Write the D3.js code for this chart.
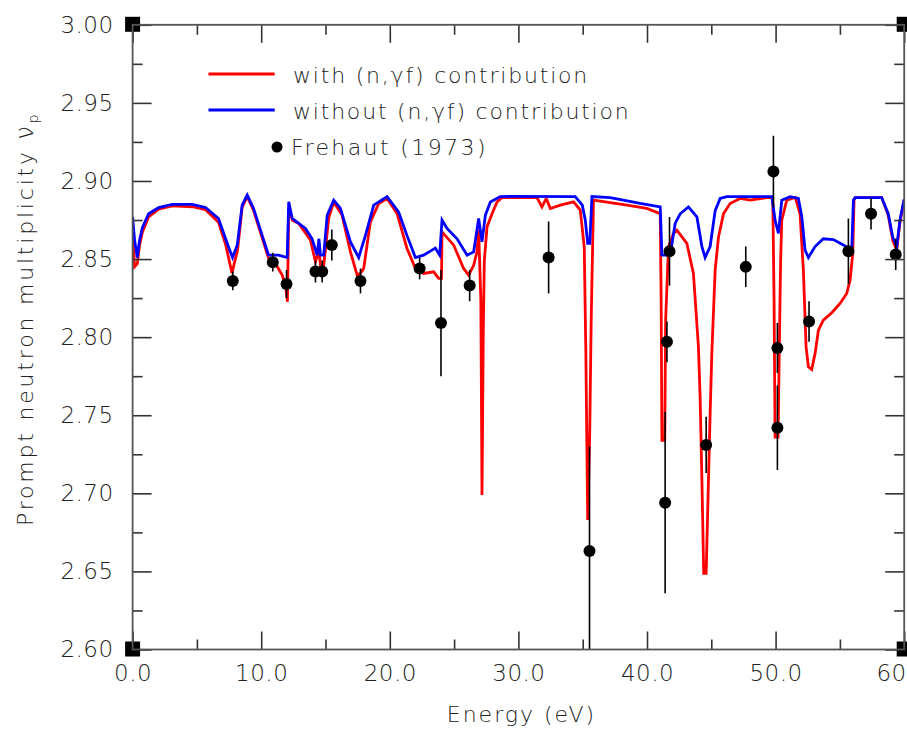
<!DOCTYPE html>
<html>
<head>
<meta charset="utf-8">
<script src="https://cdn.jsdelivr.net/npm/d3@7"></script>
<style>
  html, body { margin: 0; padding: 0; background: #fff; }
  svg { display: block; }
  text { font-family: "DejaVu Sans", sans-serif; font-weight: 200; fill: #222; }
</style>
</head>
<body>
<svg id="chart" width="907" height="739"></svg>
<script>
// Prompt neutron multiplicity vs incident energy, computed with and without
// the (n,γf) contribution, compared with Frehaut (1973) measurements.

// [energy (eV), nu_p] along the calculated curve including (n,γf)
const withNgf = [
  [0,2.865],[0.155,2.845],[0.365,2.847],[0.54,2.859],[0.754,2.867],[1.243,2.877],[2.02,2.882],
  [3.085,2.884],[4.64,2.8835],[5.67,2.8816],[6.68,2.8736],[7.23,2.8595],[7.54,2.848],[7.73,2.841],
  [7.93,2.848],[8.16,2.8557],[8.52,2.8832],[8.91,2.890],[9.40,2.8813],[10.08,2.8634],[10.57,2.8506],
  [11.11,2.8472],[11.63,2.8397],[11.89,2.8333],[12.04,2.8226],[12.14,2.8826],[12.43,2.8749],
  [12.92,2.8728],[13.83,2.8621],[14.22,2.8482],[14.49,2.8557],[14.61,2.846],[14.84,2.8442],
  [15.25,2.8762],[15.64,2.8866],[16.29,2.8781],[16.94,2.8546],[17.46,2.8397],[17.72,2.841],
  [17.97,2.844],[18.49,2.8738],[19.14,2.8856],[19.79,2.8888],[20.57,2.879],[21.34,2.8568],
  [21.99,2.844],[22.63,2.8408],[23.41,2.8418],[23.80,2.8376],[24.02,2.8376],[24.06,2.8674],
  [24.97,2.8589],[25.74,2.844],[26.13,2.8397],[26.52,2.846],[26.78,2.8546],[26.91,2.8685],
  [27.08,2.8237],[27.17,2.699],[27.27,2.8045],[27.35,2.849],[27.56,2.8706],[27.95,2.879],
  [28.34,2.8866],[28.73,2.8894],[31.45,2.8894],[31.83,2.8834],[32.17,2.8888],[32.48,2.8824],
  [33.26,2.8845],[34.29,2.8866],[34.81,2.8813],[35.12,2.8578],[35.24,2.7938],[35.39,2.6829],
  [35.55,2.7405],[35.66,2.811],[35.84,2.8877],[38.44,2.8845],[39.99,2.8824],[41.03,2.879],
  [41.10,2.8237],[41.16,2.734],[41.38,2.734],[41.45,2.811],[41.67,2.8578],[42.06,2.8664],
  [42.32,2.8685],[43.10,2.860],[43.61,2.8408],[44.00,2.7938],[44.13,2.7618],[44.27,2.7085],
  [44.41,2.6488],[44.60,2.6488],[44.78,2.7085],[44.91,2.7512],[45.04,2.7896],[45.30,2.8429],
  [45.56,2.8642],[45.95,2.879],[46.46,2.8856],[47.24,2.8888],[48.02,2.8877],[49.32,2.8894],
  [49.78,2.8894],[49.88,2.8237],[49.96,2.736],[50.19,2.736],[50.31,2.8045],[50.39,2.849],
  [50.48,2.875],[50.87,2.8877],[51.53,2.8894],[51.90,2.879],[52.16,2.8429],[52.37,2.7938],
  [52.55,2.781],[52.81,2.7793],[53.07,2.7896],[53.33,2.8045],[53.71,2.8109],[54.37,2.8156],
  [55.01,2.8216],[55.53,2.828],[55.79,2.8365],[56.00,2.8536],[56.10,2.8877],[56.18,2.8894],
  [58.25,2.8894],[58.76,2.878],[59.11,2.862],[59.42,2.8557],[59.67,2.8736],[59.98,2.887],[60.0,2.888]
];

// [energy (eV), nu_p] along the calculated curve without (n,γf)
const withoutNgf = [
  [0,2.877],[0.155,2.862],[0.365,2.851],[0.54,2.862],[0.754,2.870],[1.243,2.879],[2.02,2.883],
  [3.085,2.885],[4.64,2.885],[5.67,2.883],[6.68,2.876],[7.23,2.863],[7.54,2.856],[7.77,2.851],
  [8.14,2.859],[8.52,2.8845],[8.91,2.891],[9.40,2.8826],[10.08,2.865],[10.57,2.8525],
  [11.34,2.8525],[12.02,2.851],[12.14,2.8866],[12.41,2.876],[13.44,2.8696],[13.96,2.863],
  [14.35,2.8525],[14.49,2.863],[14.61,2.8525],[14.86,2.8525],[15.13,2.878],[15.64,2.8877],
  [16.16,2.8824],[16.94,2.861],[17.58,2.851],[18.10,2.865],[18.75,2.8845],[19.79,2.890],
  [20.69,2.880],[21.34,2.865],[21.99,2.851],[22.63,2.8525],[23.54,2.857],[23.88,2.8525],
  [24.06,2.875],[24.45,2.8696],[25.23,2.863],[26.01,2.8525],[26.52,2.8546],[26.91,2.876],
  [27.17,2.861],[27.43,2.878],[27.82,2.8866],[28.59,2.890],[29.37,2.8902],[34.42,2.890],
  [34.97,2.8845],[35.20,2.875],[35.39,2.860],[35.55,2.860],[35.72,2.890],[37.14,2.8894],
  [39.47,2.8856],[41.03,2.8834],[41.16,2.8525],[41.80,2.8525],[42.19,2.8728],[42.58,2.879],
  [43.22,2.8834],[43.88,2.877],[44.27,2.858],[44.52,2.851],[44.91,2.858],[45.30,2.881],
  [45.69,2.8888],[46.21,2.890],[49.70,2.890],[49.96,2.875],[50.22,2.8664],[50.48,2.8877],
  [51.13,2.890],[51.77,2.8888],[52.04,2.877],[52.29,2.8557],[52.55,2.851],[53.07,2.858],
  [53.71,2.863],[54.49,2.8625],[55.27,2.859],[55.92,2.8557],[56.05,2.8877],[56.18,2.8894],
  [58.25,2.8894],[58.76,2.879],[59.11,2.864],[59.42,2.858],[59.67,2.875],[59.98,2.8877],[60.0,2.888]
];

// Frehaut (1973): energy (eV), nu_p and its uncertainty
const frehautE   = [7.79, 10.90, 11.97, 14.22, 14.74, 15.49, 17.72, 22.32, 23.98, 26.21, 32.35, 35.53,
                    41.41, 41.55, 41.75, 44.60, 47.68, 49.83, 50.14, 50.14, 52.60, 55.66, 57.42, 59.34];
const frehautNu  = [2.836, 2.848, 2.834, 2.842, 2.842, 2.859, 2.836, 2.844, 2.809, 2.833, 2.851, 2.663,
                    2.694, 2.797, 2.855, 2.731, 2.845, 2.906, 2.793, 2.742, 2.810, 2.855, 2.879, 2.853];
const frehautErr = [0.006, 0.006, 0.009, 0.007, 0.007, 0.010, 0.008, 0.007, 0.034, 0.010, 0.023, 0.067,
                    0.058, 0.013, 0.022, 0.018, 0.013, 0.023, 0.016, 0.027, 0.013, 0.021, 0.010, 0.010];

const xMajorTicks = [0, 10, 20, 30, 40, 50, 60];
const xMinorTicks = [5, 15, 25, 35, 45, 55];
const yMajorTicks = [2.60, 2.65, 2.70, 2.75, 2.80, 2.85, 2.90, 2.95, 3.00];
const yMinorTicks = [2.625, 2.675, 2.725, 2.775, 2.825, 2.875, 2.925, 2.975];

const legendLabels = ["with (n,\u03B3f) contribution", "without (n,\u03B3f) contribution", "Frehaut (1973)"];
const seriesColors = ["#ff0000", "#0000ff", "#000000"];

const frameL = 132.6, frameR = 904.2, frameT = 24.8, frameB = 649.5;
const axisColor = "#333";

const svg = d3.select("#chart");
const x = d3.scaleLinear().domain([0, 60]).range([frameL, frameR]);
const y = d3.scaleLinear().domain([2.6, 3.0]).range([frameB, frameT]);

svg.append("defs").append("clipPath").attr("id", "plot-clip")
  .append("rect").attr("x", frameL).attr("y", frameT)
  .attr("width", frameR - frameL).attr("height", frameB - frameT);

const plot = svg.append("g").attr("clip-path", "url(#plot-clip)");

const line = d3.line().x(d => x(d[0])).y(d => y(d[1]));

plot.append("path").datum(withNgf)
  .attr("d", line).attr("fill", "none")
  .attr("stroke", seriesColors[0]).attr("stroke-width", 2.8);
plot.append("path").datum(withoutNgf)
  .attr("d", line).attr("fill", "none")
  .attr("stroke", seriesColors[1]).attr("stroke-width", 2.8);

// measured points with error bars
const pts = frehautE.map((e, i) => ({ e, v: frehautNu[i], err: frehautErr[i] }));
plot.selectAll("line.err").data(pts).join("line")
  .attr("class", "err")
  .attr("x1", d => x(d.e)).attr("x2", d => x(d.e))
  .attr("y1", d => y(d.v - d.err)).attr("y2", d => y(d.v + d.err))
  .attr("stroke", "#000").attr("stroke-width", 1.6);
plot.selectAll("circle.pt").data(pts).join("circle")
  .attr("class", "pt")
  .attr("cx", d => x(d.e)).attr("cy", d => y(d.v)).attr("r", 6)
  .attr("fill", "#000");

// axes, with ticks pointing into the frame on all four sides
function styleAxis(g) {
  g.select(".domain").remove();
  g.selectAll(".tick line").attr("stroke", axisColor).attr("stroke-width", 1.6);
  g.selectAll(".tick text")
    .style("font-size", "23px").style("letter-spacing", "0.5px").attr("fill", "#222");
}

// the last energy label sits on the right edge of the page, so only "60" is shown there
const xLabel = d => d === 60 ? "60" : d3.format(".1f")(d);

svg.append("g").attr("transform", `translate(0,${frameB})`)
  .call(d3.axisBottom(x).tickValues(xMajorTicks).tickFormat(xLabel)
    .tickSizeInner(-18).tickSizeOuter(0).tickPadding(15))
  .call(styleAxis)
  .call(g => g.selectAll(".tick text").filter(d => d === 60)
    .attr("text-anchor", "end").attr("dx", 2));
svg.append("g").attr("transform", `translate(0,${frameB})`)
  .call(d3.axisBottom(x).tickValues(xMinorTicks).tickFormat("")
    .tickSizeInner(-10).tickSizeOuter(0))
  .call(styleAxis);
svg.append("g").attr("transform", `translate(0,${frameT})`)
  .call(d3.axisTop(x).tickValues(xMajorTicks).tickFormat("").tickSizeInner(-18).tickSizeOuter(0))
  .call(styleAxis);
svg.append("g").attr("transform", `translate(0,${frameT})`)
  .call(d3.axisTop(x).tickValues(xMinorTicks).tickFormat("").tickSizeInner(-10).tickSizeOuter(0))
  .call(styleAxis);

svg.append("g").attr("transform", `translate(${frameL},0)`)
  .call(d3.axisLeft(y).tickValues(yMajorTicks).tickFormat(d3.format(".2f"))
    .tickSizeInner(-19).tickSizeOuter(0).tickPadding(19))
  .call(styleAxis);
svg.append("g").attr("transform", `translate(${frameL},0)`)
  .call(d3.axisLeft(y).tickValues(yMinorTicks).tickFormat("").tickSizeInner(-10).tickSizeOuter(0))
  .call(styleAxis);
svg.append("g").attr("transform", `translate(${frameR},0)`)
  .call(d3.axisRight(y).tickValues(yMajorTicks).tickFormat("").tickSizeInner(-19).tickSizeOuter(0))
  .call(styleAxis);
svg.append("g").attr("transform", `translate(${frameR},0)`)
  .call(d3.axisRight(y).tickValues(yMinorTicks).tickFormat("").tickSizeInner(-10).tickSizeOuter(0))
  .call(styleAxis);

// corner markers and frame
[[frameL, frameT], [frameR, frameT], [frameL, frameB], [frameR, frameB]].forEach(([cx, cy]) => {
  svg.append("rect").attr("x", cx - 7.5).attr("y", cy - 8).attr("width", 15).attr("height", 15)
    .attr("fill", "#000");
});
svg.append("rect").attr("x", frameL).attr("y", frameT)
  .attr("width", frameR - frameL).attr("height", frameB - frameT)
  .attr("fill", "none").attr("stroke", "#555").attr("stroke-width", 1.8);

// axis titles
svg.append("text")
  .attr("x", (frameL + frameR) / 2 + 3).attr("y", 722)
  .attr("text-anchor", "middle")
  .style("font-size", "22px").style("letter-spacing", "2px")
  .text("Energy (eV)");

const yTitle = svg.append("text")
  .attr("transform", "translate(33,526) rotate(-90)")
  .attr("text-anchor", "start")
  .style("font-size", "22px").style("letter-spacing", "2.8px");
yTitle.append("tspan").text("Prompt neutron multiplicity ");
yTitle.append("tspan").text("\u03BD").style("font-size", "24px");
yTitle.append("tspan").text("p").attr("dy", 5).style("font-size", "14px");

// legend
const legend = svg.append("g");
const legendY = [74, 110, 146];
legend.append("line").attr("x1", x(5.9)).attr("x2", x(11.05)).attr("y1", legendY[0]).attr("y2", legendY[0])
  .attr("stroke", seriesColors[0]).attr("stroke-width", 2.8);
legend.append("line").attr("x1", x(5.9)).attr("x2", x(11.05)).attr("y1", legendY[1]).attr("y2", legendY[1])
  .attr("stroke", seriesColors[1]).attr("stroke-width", 2.8);
legend.append("circle").attr("cx", 277).attr("cy", legendY[2] + 1).attr("r", 5.5).attr("fill", seriesColors[2]);
legendLabels.forEach((t, i) => {
  legend.append("text")
    .attr("x", i < 2 ? 293 : 291).attr("y", legendY[i] + 9)
    .style("font-size", "22px").style("letter-spacing", i < 2 ? "1.8px" : "2.4px")
    .text(t);
});
</script>
</body>
</html>
